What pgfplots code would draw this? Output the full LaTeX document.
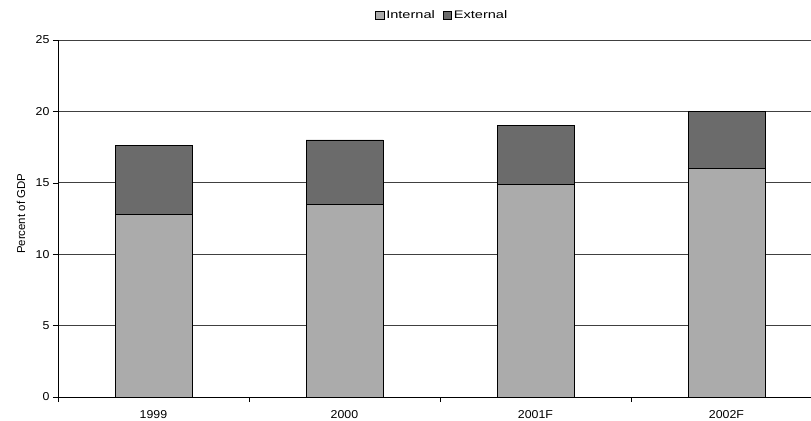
\documentclass[border=0pt]{standalone}
\usepackage{pgfplots}
\pgfplotsset{compat=1.18}
\usepackage{fontspec}
\setmainfont{Liberation Sans}

\definecolor{internalfill}{gray}{0.67}
\definecolor{externalfill}{gray}{0.42}

\begin{document}
\begin{tikzpicture}
\path[use as bounding box] (0,0) rectangle (811bp,421bp);
\begin{axis}[
  at={(58bp,24bp)}, anchor=south west,
  scale only axis,
  width=764bp, height=357bp,
  xmin=-0.5, xmax=3.5,
  ymin=0, ymax=25,
  ytick={0,5,...,25},
  xtick={-0.5,0.5,1.5,2.5,3.5},
  x tick label as interval,
  xticklabels={1999,2000,2001F,2002F},
  axis lines=left,
  axis line style={-, black, line width=0.6pt},
  tick align=outside,
  major tick length=5bp,
  tick style={black, line width=0.5pt},
  ymajorgrids,
  major grid style={black!75, line width=0.6pt},
  ybar stacked,
  bar width=77bp,
  /pgf/number format/assume math mode=true,
  tick label style={font=\fontsize{11.5}{12}\selectfont\addfontfeature{FakeStretch=1.08}},
  xticklabel style={yshift=-5bp},
  ylabel={Percent of GDP},
  ylabel style={font=\fontsize{11.5}{13}\selectfont,
    at={(axis description cs:-0.0484,0.513)}, anchor=center},
  legend style={at={(axis description cs:0.503,1.070)}, anchor=center,
    draw=none, fill=none,
    font=\fontsize{11}{12}\selectfont\addfontfeature{FakeStretch=1.33},
    legend columns=2,
    /tikz/every even column/.append style={column sep=6bp}},
  legend image code/.code={\draw[#1, draw=black, line width=0.5pt] (-2bp,-4bp) rectangle (6.5bp,4bp);},
  legend cell align=left,
]
\addplot[fill=internalfill, draw=black, line width=0.8pt] coordinates {(0,12.8) (1,13.5) (2,14.9) (3,16.0)};
\addplot[fill=externalfill, draw=black, line width=0.8pt] coordinates {(0,4.8) (1,4.5) (2,4.1) (3,4.0)};
\legend{Internal, External}
\end{axis}
\end{tikzpicture}
\end{document}
